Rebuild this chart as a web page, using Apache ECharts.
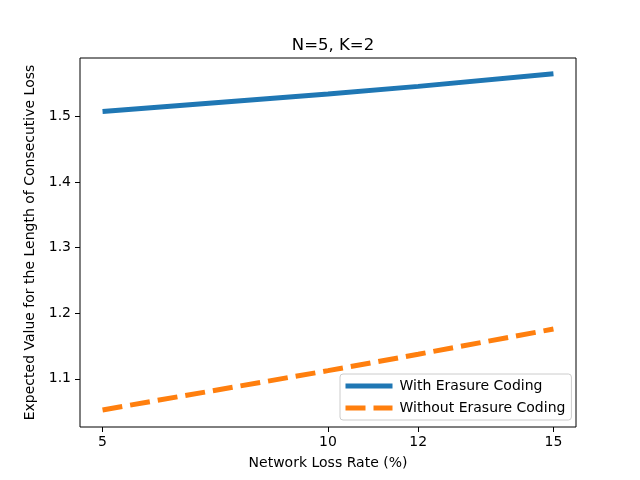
<!DOCTYPE html>
<html>
<head>
<meta charset="utf-8">
<script src="https://cdn.jsdelivr.net/npm/echarts@6/dist/echarts.min.js"></script>
<style>
  html, body { margin: 0; padding: 0; background: #fff; }
</style>
</head>
<body>

<div id="main" style="width: 640px;height:480px;"></div>

<script type="text/javascript">
    // data
    var lossRates = [5, 10, 12, 15];
    var withCoding = [1.5077, 1.5345, 1.5462, 1.5655];
    var withoutCoding = [1.0525, 1.1125, 1.1375, 1.1760];
    var xTicks = [5, 10, 12, 15];
    var yTicks = [1.1, 1.2, 1.3, 1.4, 1.5];

    var font = 'DejaVu Sans';

    function pairs(xs, ys) {
        return xs.map(function (x, i) { return [x, ys[i]]; });
    }

    var myChart = echarts.init(document.getElementById('main'));

    var option = {
        animation: false,
        backgroundColor: '#fff',
        title: {
            text: 'N=5, K=2',
            left: 328,
            top: 32,
            textAlign: 'center',
            textStyle: { fontFamily: font, fontSize: 16.5, fontWeight: 'normal', color: '#000' }
        },
        grid: {
            left: 80, right: 64, top: 58, bottom: 53,
            show: true, borderColor: '#000', borderWidth: 1, backgroundColor: 'transparent'
        },
        legend: {
            orient: 'vertical',
            left: 340,
            top: 374,
            itemWidth: 47,
            itemHeight: 14,
            itemGap: 8,
            padding: [5, 6, 5, 3],
            borderColor: '#cccccc',
            borderWidth: 1,
            borderRadius: 3,
            backgroundColor: 'rgba(255,255,255,0.8)',
            textStyle: { fontFamily: font, fontSize: 14, color: '#000', padding: [0, 0, 0, 2] },
            itemStyle: { opacity: 0, borderWidth: 0 },
            lineStyle: { width: 5 },
            data: ['With Erasure Coding', 'Without Erasure Coding']
        },
        xAxis: {
            type: 'value',
            min: 4.5,
            max: 15.5,
            name: 'Network Loss Rate (%)',
            nameLocation: 'middle',
            nameGap: 29,
            nameTextStyle: { fontFamily: font, fontSize: 14, color: '#000' },
            axisLine: { show: false },
            splitLine: { show: false },
            axisTick: { show: true, customValues: xTicks, length: 5, lineStyle: { color: '#000' } },
            axisLabel: { customValues: xTicks, fontFamily: font, fontSize: 14, color: '#000', margin: 8 }
        },
        yAxis: {
            type: 'value',
            min: 1.0265,
            max: 1.5895,
            name: 'Expected Value for the Length of Consecutive Loss',
            nameLocation: 'middle',
            nameGap: 40,
            nameTextStyle: { fontFamily: font, fontSize: 14, color: '#000' },
            axisLine: { show: false },
            splitLine: { show: false },
            axisTick: { show: true, customValues: yTicks, length: 5, lineStyle: { color: '#000' } },
            axisLabel: {
                customValues: yTicks, fontFamily: font, fontSize: 14, color: '#000', margin: 9,
                formatter: function (v) { return v.toFixed(1); }
            }
        },
        series: [{
            name: 'With Erasure Coding',
            type: 'line',
            symbol: 'none',
            smooth: false,
            color: '#1f77b4',
            lineStyle: { width: 5, color: '#1f77b4', cap: 'butt' },
            data: pairs(lossRates, withCoding)
        }, {
            name: 'Without Erasure Coding',
            type: 'line',
            symbol: 'none',
            smooth: false,
            color: '#ff7f0e',
            lineStyle: { width: 5, color: '#ff7f0e', type: [20, 8], cap: 'butt' },
            data: pairs(lossRates, withoutCoding)
        }]
    };

    myChart.setOption(option);
</script>

</body>
</html>
